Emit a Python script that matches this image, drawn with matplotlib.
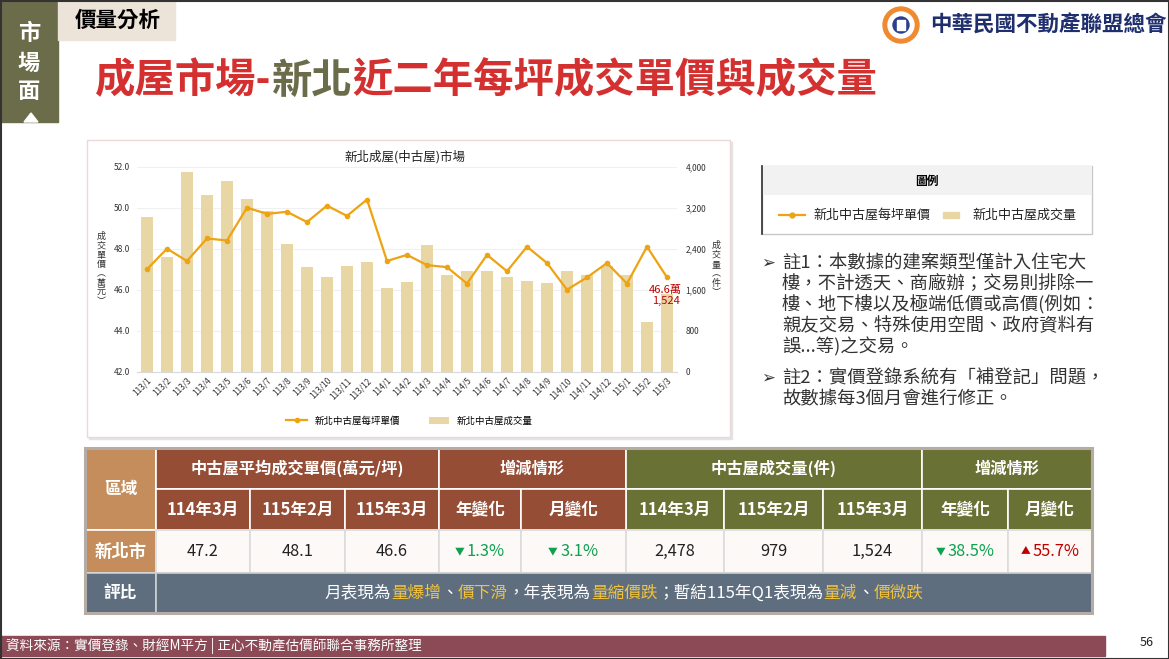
import matplotlib
matplotlib.use("Agg")
import matplotlib.pyplot as plt
from matplotlib.patches import Rectangle, Circle, Polygon
from matplotlib.lines import Line2D

plt.rcParams['font.family'] = ['Noto Sans CJK TC', 'DejaVu Sans']

# -----------------------------
# Data
# -----------------------------
months = ["113/1", "113/2", "113/3", "113/4", "113/5", "113/6", "113/7", "113/8", "113/9",
          "113/10", "113/11", "113/12", "114/1", "114/2", "114/3", "114/4", "114/5", "114/6",
          "114/7", "114/8", "114/9", "114/10", "114/11", "114/12", "115/1", "115/2", "115/3"]
price = [47.0, 48.0, 47.4, 48.5, 48.4, 50.0, 49.7, 49.8, 49.3, 50.1, 49.6, 50.4, 47.4, 47.7,
         47.2, 47.1, 46.3, 47.7, 46.9, 48.1, 47.3, 46.0, 46.6, 47.3, 46.3, 48.1, 46.6]
volume = [3010, 2240, 3890, 3450, 3720, 3360, 3130, 2490, 2040, 1850, 2055, 2135, 1625, 1750,
          2478, 1885, 1965, 1965, 1850, 1770, 1730, 1965, 1885, 2060, 1885, 979, 1524]

price_ticks = [42.0, 44.0, 46.0, 48.0, 50.0, 52.0]
volume_ticks = [0, 800, 1600, 2400, 3200, 4000]

table_periods = ["114年3月", "115年2月", "115年3月"]
table_price = ["47.2", "48.1", "46.6"]
table_price_chg = [("▼", "1.3%"), ("▼", "3.1%")]
table_volume = ["2,478", "979", "1,524"]
table_volume_chg = [("▼", "38.5%"), ("▲", "55.7%")]

notes = [
    ["註1：本數據的建案類型僅計入住宅大",
     "樓，不計透天、商廠辦；交易則排除一",
     "樓、地下樓以及極端低價或高價(例如：",
     "親友交易、特殊使用空間、政府資料有",
     "誤...等)之交易。"],
    ["註2：實價登錄系統有「補登記」問題，",
     "故數據每3個月會進行修正。"],
]

# colours
OLIVE = "#6b6c4a"
RED_TITLE = "#d3302f"
BAR_C = "#e8d7a5"
LINE_C = "#eda312"
BROWN = "#954d36"
GREEN_H = "#6a7135"
TAN = "#c48d5b"
SLATE = "#5e6e7f"
YELLOW = "#f2c23c"
UP_RED = "#c00000"
DOWN_GREEN = "#10a050"

W, H = 1169, 659
fig = plt.figure(figsize=(W / 100, H / 100), dpi=100)
fig.patch.set_facecolor("white")

# background axes in pixel coordinates
bg = fig.add_axes([0, 0, 1, 1], zorder=-1)
bg.set_xlim(0, W)
bg.set_ylim(H, 0)
bg.axis("off")
renderer = fig.canvas.get_renderer()


def runs_text(x, y, runs, ha="center", weight="normal"):
    # draw text pieces of different colours / sizes next to each other
    objs = []
    widths = []
    for txt, color, size in runs:
        t = bg.text(0, y, txt, color=color, fontsize=size, va="center", ha="left",
                    fontweight=weight)
        widths.append(t.get_window_extent(renderer).width)
        objs.append(t)
    total = sum(widths)
    start = x - total / 2 if ha == "center" else x
    for t, w in zip(objs, widths):
        t.set_x(start)
        start += w


# -----------------------------
# Slide header
# -----------------------------
bg.add_patch(Rectangle((0, 0), 58, 122, color=OLIVE))
for ch, yy in zip("市場面", [34, 63, 92]):
    bg.text(29, yy, ch, color="white", fontsize=16, fontweight="bold", ha="center", va="center")
bg.add_patch(Polygon([[24, 122], [38, 122], [31, 113]], color="white"))
bg.add_patch(Rectangle((58, 0), 117, 40, color="#ede4d9"))
bg.text(118, 20, "價量分析", fontsize=15.5, fontweight="bold", ha="center", va="center")

runs_text(95, 81, [("成屋市場-", RED_TITLE, 29.1), ("新北", OLIVE, 29.1),
                   ("近二年每坪成交單價與成交量", RED_TITLE, 29.1)], ha="left", weight="bold")

# logo
bg.add_patch(Circle((901, 25), 18, color="#f08a30"))
bg.add_patch(Circle((901, 25), 13, color="white"))
bg.add_patch(Circle((901, 25), 8, color="#2b3f8c"))
bg.add_patch(Rectangle((897, 20), 8, 10, color="white"))
bg.text(930, 25, "中華民國不動產聯盟總會", color="#1f2f6e", fontsize=15.5, fontweight="bold",
        va="center", ha="left")

# -----------------------------
# Chart box
# -----------------------------
bg.add_patch(Rectangle((89, 142), 643, 297, color="#e4e4e4"))
bg.add_patch(Rectangle((87, 140), 643, 297, facecolor="white", edgecolor="#ecd8d8", lw=1))
bg.text(405, 157, "新北成屋(中古屋)市場", fontsize=9, ha="center", va="center", color="#222")
bg.text(101, 269, "\n".join("成交單價︵萬元︶"), fontsize=6.5, ha="center", va="center",
        linespacing=1.05, color="#333")
bg.text(716, 269, "\n".join("成交量︵件︶"), fontsize=6.5, ha="center", va="center",
        linespacing=1.05, color="#333")

ax2 = fig.add_axes([137 / W, 1 - 371.7 / H, 540 / W, 205 / H])
ax1 = ax2.twinx()
ax1.set_zorder(ax2.get_zorder() + 1)
ax1.patch.set_visible(False)
ax2.patch.set_visible(False)

x = range(len(months))
bars = ax2.bar(x, volume, width=0.63, color=BAR_C, zorder=2)
line, = ax1.plot(x, price, color=LINE_C, lw=1.6, marker="o", markersize=3)

# left axis = price, right axis = volume
ax1.yaxis.tick_left()
ax2.yaxis.tick_right()
ax1.set_ylim(42, 52)
ax1.set_yticks(price_ticks)
ax1.set_yticklabels([f"{v:.1f}" for v in price_ticks])
ax2.set_ylim(0, 4000)
ax2.set_yticks(volume_ticks)
ax2.set_yticklabels([f"{v:,}" for v in volume_ticks])
ax2.set_xlim(-0.5, len(months) - 0.5)
ax2.set_xticks(list(x))
ax2.set_xticklabels(months, rotation=45, ha="right", rotation_mode="anchor")
ax2.grid(axis="y", color="#f0f0f0", lw=0.8, zorder=0)
ax2.set_axisbelow(True)
for a in (ax1, ax2):
    for s in a.spines.values():
        s.set_visible(False)
    a.tick_params(length=0, labelsize=6, colors="#333")
ax2.spines["bottom"].set_visible(True)
ax2.spines["bottom"].set_color("#d9d9d9")
ax1.tick_params(axis="y", pad=5)
ax2.tick_params(axis="y", pad=6)
ax2.tick_params(axis="x", pad=3)

ax1.annotate(f"{price[-1]}萬\n{volume[-1]:,}", xy=(len(months) - 1, price[-1]),
             xytext=(-1, -13), textcoords="offset points", ha="center", va="center",
             color=UP_RED, fontsize=8, linespacing=1.1)

ax1.legend([line, bars], ["新北中古屋每坪單價", "新北中古屋成交量"], loc="center",
           bbox_to_anchor=(0.505, -0.24), ncol=2, frameon=False, fontsize=6.8,
           handlelength=2.2, columnspacing=3, handletextpad=0.8)

# -----------------------------
# Legend box and notes (right side)
# -----------------------------
bg.add_patch(Rectangle((762, 166), 330, 68, facecolor="white", edgecolor="#c8c8c8", lw=1))
bg.add_patch(Rectangle((762, 166), 330, 29, facecolor="#f2f2f2", edgecolor="none"))
bg.plot([762, 762], [166, 234], color="#303030", lw=1.2)
bg.text(927, 181, "圖例", fontsize=8.5, fontweight="bold", ha="center", va="center")
bg.add_line(Line2D([779, 805], [215, 215], color=LINE_C, lw=1.6))
bg.plot([792], [215], marker="o", color=LINE_C, markersize=3.5)
bg.text(813, 215, "新北中古屋每坪單價", fontsize=9.4, ha="left", va="center", color="#222")
bg.add_patch(Rectangle((943, 212), 16, 6, color=BAR_C))
bg.text(972, 215, "新北中古屋成交量", fontsize=9.4, ha="left", va="center", color="#222")

y_note = [263, 378]
for lines, y0 in zip(notes, y_note):
    bg.text(768, y0, "➢", fontsize=12, ha="center", va="center", color="#333",
            family=["DejaVu Sans"])
    for i, ln in enumerate(lines):
        bg.text(782, y0 + i * 21, ln, fontsize=13.2, ha="left", va="center", color="#333")

# -----------------------------
# Table
# -----------------------------
xs = [85, 156, 250, 345, 439, 521, 626, 724, 823, 922, 1008, 1092]
ys = [448, 489, 530, 573, 613]


def cell(c0, c1, r0, r1, color, edge="white"):
    bg.add_patch(Rectangle((xs[c0], ys[r0]), xs[c1] - xs[c0], ys[r1] - ys[r0],
                           facecolor=color, edgecolor=edge, lw=1.2))


def ctext(c0, c1, r0, r1, txt, color="white", size=12, weight="bold"):
    bg.text((xs[c0] + xs[c1]) / 2, (ys[r0] + ys[r1]) / 2, txt, color=color, fontsize=size,
            fontweight=weight, ha="center", va="center")


cell(0, 1, 0, 2, TAN)
ctext(0, 1, 0, 2, "區域", size=12)
cell(1, 4, 0, 1, BROWN)
ctext(1, 4, 0, 1, "中古屋平均成交單價(萬元/坪)", size=11.7)
cell(4, 6, 0, 1, BROWN)
ctext(4, 6, 0, 1, "增減情形", size=11.7)
cell(6, 9, 0, 1, GREEN_H)
ctext(6, 9, 0, 1, "中古屋成交量(件)", size=11.7)
cell(9, 11, 0, 1, GREEN_H)
ctext(9, 11, 0, 1, "增減情形", size=11.7)
sub = table_periods + ["年變化", "月變化"]
for i, s in enumerate(sub):
    cell(1 + i, 2 + i, 1, 2, BROWN)
    ctext(1 + i, 2 + i, 1, 2, s, size=12)
    cell(6 + i, 7 + i, 1, 2, GREEN_H)
    ctext(6 + i, 7 + i, 1, 2, s, size=12)

cell(0, 1, 2, 3, TAN)
ctext(0, 1, 2, 3, "新北市", size=12.5)
for i in range(10):
    cell(1 + i, 2 + i, 2, 3, "#fcf9f7", edge="#dcdcdc")
for i, v in enumerate(table_price):
    ctext(1 + i, 2 + i, 2, 3, v, color="#222", size=11.8, weight="normal")
for i, v in enumerate(table_volume):
    ctext(6 + i, 7 + i, 2, 3, v, color="#222", size=11.8, weight="normal")
ymid = (ys[2] + ys[3]) / 2
for i, (sym, val) in enumerate(table_price_chg + table_volume_chg):
    c = 4 + i if i < 2 else 7 + i
    col = UP_RED if sym == "▲" else DOWN_GREEN
    runs_text((xs[c] + xs[c + 1]) / 2, ymid, [(sym + " ", col, 7), (val, col, 11.8)])

cell(0, 1, 3, 4, SLATE, edge="#d0d0d0")
ctext(0, 1, 3, 4, "評比", size=12)
cell(1, 11, 3, 4, SLATE, edge="#d0d0d0")
runs_text((xs[1] + xs[11]) / 2, (ys[3] + ys[4]) / 2,
          [("月表現為", "white", 12), ("量爆增", YELLOW, 12), ("、", "white", 12),
           ("價下滑", YELLOW, 12), ("，年表現為", "white", 12), ("量縮價跌", YELLOW, 12),
           ("；暫結115年Q1表現為", "white", 12), ("量減", YELLOW, 12), ("、", "white", 12),
           ("價微跌", YELLOW, 12)])
bg.add_patch(Rectangle((xs[0], ys[0]), xs[-1] - xs[0], ys[-1] - ys[0], facecolor="none",
                       edgecolor="#b4aca5", lw=2.2))

# -----------------------------
# Footer
# -----------------------------
bg.add_patch(Rectangle((0, 636), 1105, 20, color="#8b4a56"))
bg.text(6, 646.5, "資料來源：實價登錄、財經M平方 | 正心不動產估價師聯合事務所整理", color="white",
        fontsize=9.8, ha="left", va="center")
bg.text(1147, 643, "56", fontsize=9, ha="center", va="center", color="#222")
bg.add_patch(Rectangle((0.5, 0.5), W - 1, H - 1, facecolor="none", edgecolor="#333", lw=1.5))

fig.savefig("out.png", dpi=100)
